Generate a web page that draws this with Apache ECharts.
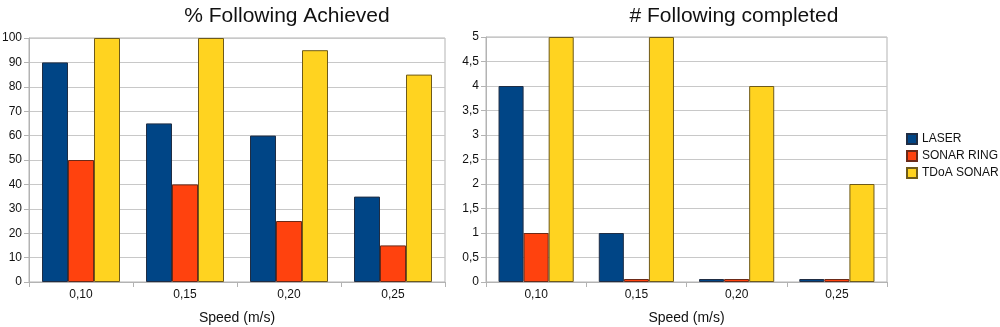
<!DOCTYPE html>
<html><head><meta charset="utf-8">
<script src="https://cdn.jsdelivr.net/npm/echarts@6/dist/echarts.min.js"></script>
<style>html,body{margin:0;padding:0;background:#fff}#c{width:1000px;height:327px}</style>
</head><body><div id="c"></div>
<script>
const categories = ['0,10', '0,15', '0,20', '0,25'];
const seriesNames = ['LASER', 'SONAR RING', 'TDoA SONAR'];
const pctLaser = [90, 65, 60, 35];
const pctSonarRing = [50, 40, 25, 15];
const pctTdoa = [100, 100, 95, 85];
const cntLaser = [4, 1, 0, 0];
const cntSonarRing = [1, 0, 0, 0];
const cntTdoa = [5, 5, 4, 2];
const titles = ['% Following Achieved', '# Following completed'];
const xName = 'Speed (m/s)';

const colors = ['#004586', '#ff420e', '#ffd320'];
const borders = ['#1f2d44', '#6b2a18', '#6e5a1a'];
const font = 'Liberation Sans, Arial, sans-serif';
const chart = echarts.init(document.getElementById('c'), null, {renderer: 'canvas'});

function xAxis(gi) {
  return {
    type: 'category', gridIndex: gi, data: categories,
    name: xName, nameLocation: 'middle', nameGap: 29,
    nameTextStyle: {fontFamily: font, fontSize: 14, color: '#111'},
    axisLine: {lineStyle: {color: '#b3b3b3'}},
    axisTick: {show: true, length: 5, lineStyle: {color: '#b3b3b3'}},
    axisLabel: {fontFamily: font, fontSize: 12, color: '#111', margin: 7},
    splitLine: {show: false}
  };
}
function yAxis(gi, max, interval) {
  return {
    type: 'value', gridIndex: gi, min: 0, max: max, interval: interval,
    axisLine: {show: true, lineStyle: {color: '#b3b3b3'}},
    axisTick: {show: true, length: 5, lineStyle: {color: '#b3b3b3'}},
    axisLabel: {fontFamily: font, fontSize: 12, color: '#111', margin: 7,
      formatter: v => String(v).replace('.', ',')},
    splitLine: {show: true, lineStyle: {color: '#c8c8c8', width: 1}}
  };
}
function bar(name, data, i, gi) {
  return {
    name: name, type: 'bar', xAxisIndex: gi, yAxisIndex: gi, data: data,
    barGap: '0%', barCategoryGap: '25%', barMinHeight: 3,
    itemStyle: {color: colors[i], borderColor: borders[i], borderWidth: 1},
    emphasis: {disabled: true}, animation: false
  };
}

chart.setOption({
  animation: false,
  textStyle: {fontFamily: font},
  title: [
    {text: titles[0], left: 282, top: 1, textAlign: 'center',
      textStyle: {fontFamily: font, fontSize: 21, fontWeight: 'normal', color: '#111'}},
    {text: titles[1], left: 729, top: 1, textAlign: 'center',
      textStyle: {fontFamily: font, fontSize: 21, fontWeight: 'normal', color: '#111'}}
  ],
  legend: {
    data: seriesNames, orient: 'vertical', left: 901, top: 128,
    itemWidth: 10, itemHeight: 10, itemGap: 5,
    textStyle: {fontFamily: font, fontSize: 12, color: '#111'},
    icon: 'rect'
  },
  grid: [
    {left: 29, right: 555, top: 38, bottom: 45, show: true, borderColor: '#b3b3b3', borderWidth: 1,
      containLabel: false, outerBoundsMode: 'none'},
    {left: 486, right: 113, top: 37, bottom: 45, show: true, borderColor: '#b3b3b3', borderWidth: 1,
      containLabel: false, outerBoundsMode: 'none'}
  ],
  xAxis: [xAxis(0), xAxis(1)],
  yAxis: [yAxis(0, 100, 10), yAxis(1, 5, 0.5)],
  series: [
    bar(seriesNames[0], pctLaser, 0, 0),
    bar(seriesNames[1], pctSonarRing, 1, 0),
    bar(seriesNames[2], pctTdoa, 2, 0),
    bar(seriesNames[0], cntLaser, 0, 1),
    bar(seriesNames[1], cntSonarRing, 1, 1),
    bar(seriesNames[2], cntTdoa, 2, 1)
  ]
});
</script></body></html>
